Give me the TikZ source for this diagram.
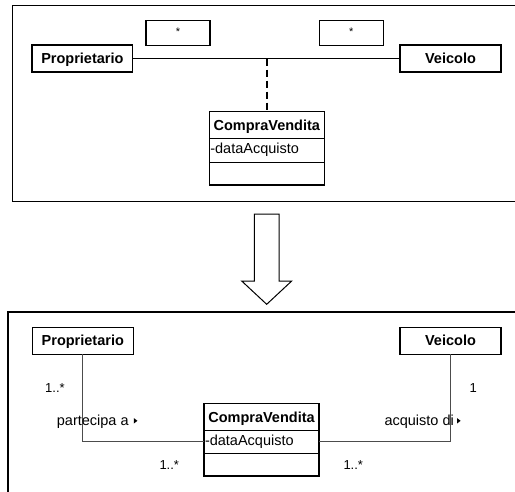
\documentclass[tikz,border=0pt]{standalone}
\usepackage{fontspec}
\setmainfont{Liberation Sans}
\usetikzlibrary{positioning,calc}
\begin{document}
\begin{tikzpicture}[x=1pt,y=-1pt,
  frame/.style={draw, line width=1.4pt},
  classbox/.style={draw, line width=1.1pt, inner sep=0pt, outer sep=0pt,
    font=\fontsize{14.5}{17}\selectfont\bfseries,
    text height=10.4pt, text depth=0pt, minimum width=#1, minimum height=27pt},
  multbox/.style={draw, line width=1.1pt, inner sep=0pt, outer sep=0pt,
    font=\fontsize{11}{13}\selectfont,
    text height=7.9pt, text depth=3.1pt, minimum width=64pt, minimum height=25pt},
  cvtitle/.style={draw, line width=1.1pt, inner sep=0pt, outer sep=0pt,
    font=\fontsize{14.5}{17}\selectfont\bfseries,
    text height=10.4pt, text depth=0pt, minimum width=115pt, minimum height=#1},
  cvattr/.style={draw, line width=1.1pt, inner xsep=1pt, inner ysep=0pt, outer sep=0pt,
    font=\fontsize{14.5}{17}\selectfont, align=left, text width=113pt,
    text height=10.4pt, text depth=4pt, minimum height=#1},
  cvops/.style={draw, line width=1.1pt, inner sep=0pt, outer sep=0pt,
    minimum width=115pt, minimum height=#1},
  assoc/.style={draw, line width=1pt},
  link/.style={draw, black!70, line width=1pt},
  lbl/.style={inner sep=0pt, font=\fontsize{14.5}{17}\selectfont},
  mult/.style={inner sep=0pt, font=\fontsize{13}{15}\selectfont, text height=9.3pt, text depth=0pt},
]
\useasboundingbox (0,0) rectangle (515,491);
\clip (0,0) rectangle (515,491);

% ---------- upper diagram: association class ----------
\draw[frame] (12.7,5.3) rectangle (530,201.5);

\node[multbox] (s1) at (178,33.2) {*};
\node[multbox] (s2) at (351.3,33.2) {*};

\node[classbox=100.7pt] (p1) at (82.35,58.5) {Proprietario};
\node[classbox=101pt] (v1) at (450.5,58.5) {Veicolo};

\node[cvtitle=26.8pt, anchor=north] (c1t) at (266.8,111.7) {CompraVendita};
\node[cvattr=24pt, below=0pt of c1t] (c1a) {-dataAcquisto};
\node[cvops=22.5pt, below=0pt of c1a] (c1o) {};

\draw[assoc] (p1.east) -- (v1.west);
\coordinate (j1) at (c1t.north |- p1.east);
\draw[line width=1.5pt, dash pattern=on 7pt off 4pt] (j1) -- (c1t.north);

% ---------- transformation arrow ----------
\draw[line width=1pt, line join=miter]
  (254.3,214) -- (279,214) -- (279,281) -- (291.7,281) -- (266.7,304.3)
  -- (241.7,281) -- (254.3,281) -- cycle;

% ---------- lower diagram: reified association ----------
\draw[frame] (8,312) rectangle (530,500);

\node[classbox=101pt] (p2) at (82.8,340.7) {Proprietario};
\node[classbox=101pt] (v2) at (450.5,340.7) {Veicolo};

\node[cvtitle=27pt, anchor=north] (c2t) at (261.5,403.3) {CompraVendita};
\node[cvattr=23pt, below=0pt of c2t] (c2a) {-dataAcquisto};
\node[cvops=22.7pt, below=0pt of c2a] (c2o) {};

\draw[link] (p2.south) |- (c2a.west);
\draw[link] (c2a.east) -| (v2.south);

\node[mult, anchor=west] (m1) at (45,387.5) {1..*};
\node[mult, anchor=west] (m2) at (159.3,465) {1..*};
\node[mult, anchor=west] (m3) at (469.3,387.5) {1};
\node[mult, anchor=west] (m4) at (343.3,465) {1..*};

\node[lbl, anchor=base west] (r1) at (56.7,425) {partecipa a};
\node[lbl, anchor=base west] (r2) at (384.3,425) {acquisto di};
\fill ([xshift=5pt]r1.base east) ++(0,-6.9) -- ++(0,5.4) -- ++(3.6,-2.7) -- cycle;
\fill ([xshift=3pt]r2.base east) ++(0,-6.9) -- ++(0,5.4) -- ++(3.6,-2.7) -- cycle;
\end{tikzpicture}
\end{document}
